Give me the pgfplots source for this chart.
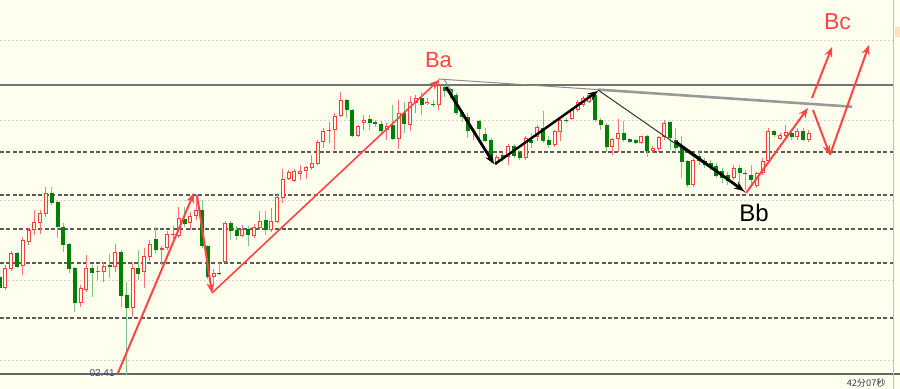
\documentclass[border=0pt]{standalone}
\usepackage{pgfplots}
\pgfplotsset{compat=1.18}
\usepackage{pgfplotstable}
\usepackage{fontspec}
\setmainfont{Liberation Sans}
\newfontfamily\cjk{Noto Sans CJK SC}
\usetikzlibrary{arrows.meta}
\definecolor{bg}{HTML}{FFFFEE}
\definecolor{upc}{HTML}{FF3B3B}
\definecolor{upw}{HTML}{FF7070}
\definecolor{dnc}{HTML}{008000}
\definecolor{dnw}{HTML}{80C480}
\definecolor{arr}{HTML}{FF4545}
\definecolor{grd}{HTML}{D4D4D4}
\definecolor{dsh}{HTML}{5A5A5A}
% candles, screen-pixel units (y grows downwards): body top, body bottom, high, low
\pgfplotstableread{
i top bot hi lo
1 268 288 265 290
2 253 269 251 271
4 240 266 237 275
5 230 242 228 245
6 222 230 210 235
7 213 223 210 234
8 193 214 187 217
14 288 303 285 307
15 268 290 255 292
17 271.5 272.5 266 280
18 266 272 262 282
20 252 267 244 272
23 268 308 263 317
25 256 272 248 288
26 244 257 240 261
28 248.5 250 246.5 265
29 234 248 231.5 250
30 234.5 235.5 226.5 240
31 218 236 207 238
33 216 223 212 230
34 210 216 197 220
37 273 277 269 283
39 223 262 221.5 263.5
42 229 236 225 237.5
44 227 236 224 238.5
45 221 228 211 230
47 221.5 230 208 232
48 197 222 193 223.5
49 179 198.5 169 203
50 172.5 179.5 170 180.5
51 171.5 181 169 182
52 171 174 165 180
53 167 171.5 166 179.5
54 163 168 155 170
55 142 164.5 140 165
56 131 142.5 128 148.5
57 130 131 122.5 143.5
58 116 130 113 150
59 100 116 92.5 117.5
62 126.5 136 125 137
63 120 123.5 115 130
67 126 130 123 140
69 113 139.5 100 149.5
71 102.5 125 96.5 131
72 98.5 103.5 95 113
74 102 104.5 98.5 105.5
76 85 105.5 80.5 110.5
82 131.5 132.5 128.5 140
86 157 162 155 165
88 146 157 144.5 165
91 138 158.5 136.5 160.5
93 127 137 125 141
96 131.5 145 130 147
97 120.5 132.5 119 141.5
99 110 119.5 108 120.5
100 102.5 110.5 100.5 112
101 98 105 96.5 107
102 95.5 102 94 103.5
106 139.5 147 138 155
107 133.5 139.5 119.5 152
111 136.5 143.5 136 144.5
113 148.5 151 146.5 153.5
114 137.5 149 136 152
115 123.5 137.5 120.5 140
120 160.5 185.5 158 187
127 168.5 178.5 165 180
131 173.5 186.5 172 188
132 161.5 173.5 158 175
133 131.5 161.5 128 163.5
135 135 139.5 133 140.5
136 132.5 136.5 125 140
138 131.5 137.5 128 140
140 133.5 140 130 142
}\up
\pgfplotstableread{
i top bot hi lo
0 277 288 276 289
3 253 267 252 268
9 193 203 187 205
10 202 227 201 238
11 227 245 223 252
12 244 269 243 273
13 268 303 267 312
16 268 273 265 297
19 265 267.5 254 278
21 252 296 250 307
22 295 308 282 375
24 268 274 250 280
27 239 250 227 253
32 219 224 207 227
35 210.5 246.5 200 248
36 246 277 245 279
38 273.5 274.5 263 275
40 223 231 221 240
41 230 236 226.5 240
43 229 235 226 246
46 220 230 211 235
60 100 110 99 118
61 110 136 109 137.5
64 119.5 123.5 115 130
65 122.5 124.5 120 127
66 124 131.5 121.5 133.5
68 125.5 139 105 140
70 113 124 102 133.5
73 98.5 105 92 115.5
75 104.5 105.5 100.5 107
77 87.5 91.5 86 97.5
78 89.5 95.5 88 99
79 95 113.5 93.5 115
80 112.5 117 110 122
81 117 131.5 113.5 138.5
83 121 129 120 141.5
84 134 141 128.5 142
85 140 160 138.5 163
87 155 159.5 153.5 162
89 146.5 156 144.5 158
90 152.5 158.5 150 160
92 140 143.5 133 148
94 128.5 141.5 111 143.5
95 140 145 136.5 148.5
98 120.5 121.5 118 123
103 95 120 93 122
104 120 125 118 130
105 125 147 123 152
108 133.5 140 121.5 142
109 139.5 142.5 138 143.5
110 140.5 143.5 139 144.5
112 136 151 135 157.5
116 122.5 138.5 121 150
117 140 148.5 128 152
118 148.5 162 136.5 178
119 161.5 185 160 187
121 156.5 161.5 150 165
122 161 165 158 168
123 163 167 160 170
124 166.5 176.5 163 178.5
125 171.5 178 168 183
126 175 181 172 185
128 168.5 173.5 165 183
129 173.5 174.5 170 190
130 175 180 165 185
134 131.5 135 130 137
137 133.5 137.5 130 140
139 131.5 140 128 141.5
}\dn
\begin{document}
\begin{tikzpicture}
\begin{axis}[
  scale only axis, width=450pt, height=194.5pt,
  xmin=0, xmax=900, ymin=0, ymax=389, y dir=reverse,
  axis line style={draw=none}, xtick=\empty, ytick=\empty,
  axis background/.style={fill=bg},
  clip=true,
]
% grid
\addplot[grd, line width=0.4pt, dash pattern=on 1pt off 1pt] coordinates {(0,40) (893,40)};
\addplot[grd, line width=0.4pt, dash pattern=on 1pt off 1pt] coordinates {(0,120) (893,120)};
\addplot[grd, line width=0.4pt, dash pattern=on 1pt off 1pt] coordinates {(0,200) (893,200)};
\addplot[grd, line width=0.4pt, dash pattern=on 1pt off 1pt] coordinates {(0,280) (893,280)};
\addplot[grd, line width=0.4pt, dash pattern=on 1pt off 1pt] coordinates {(0,360) (893,360)};
\addplot[dsh, line width=0.55pt, dash pattern=on 2pt off 1.2pt] coordinates {(0,152) (893,152)};
\addplot[dsh, line width=0.55pt, dash pattern=on 2pt off 1.2pt] coordinates {(0,195) (893,195)};
\addplot[dsh, line width=0.55pt, dash pattern=on 2pt off 1.2pt] coordinates {(0,229) (893,229)};
\addplot[dsh, line width=0.55pt, dash pattern=on 2pt off 1.2pt] coordinates {(0,263) (893,263)};
\addplot[dsh, line width=0.55pt, dash pattern=on 2pt off 1.2pt] coordinates {(0,318) (893,318)};
\addplot[black!55, line width=0.6pt] coordinates {(0,85) (893,85)};
\addplot[black!60, line width=0.7pt] coordinates {(0,374) (900,374)};
\addplot[black!25, line width=0.5pt] coordinates {(893,0) (893,389)};
\fill[orange!25] (axis cs:895,27) rectangle (axis cs:900,37);
% wicks
\addplot[draw=none, mark=none, error bars/.cd, y dir=plus, y explicit, error mark=none,
  error bar style={draw=upw, line width=0.5pt}]
  table[x expr=5.78*\thisrow{i}-0.3, y=hi, y error expr=\thisrow{lo}-\thisrow{hi}] {\up};
\addplot[draw=none, mark=none, error bars/.cd, y dir=plus, y explicit, error mark=none,
  error bar style={draw=dnw, line width=0.5pt}]
  table[x expr=5.78*\thisrow{i}-0.3, y=hi, y error expr=\thisrow{lo}-\thisrow{hi}] {\dn};
% bodies
\addplot[draw=none, mark=none, error bars/.cd, y dir=plus, y explicit, error mark=none,
  error bar style={draw=upc, line width=2pt}]
  table[x expr=5.78*\thisrow{i}-0.3, y=top, y error expr=\thisrow{bot}-\thisrow{top}] {\up};
\addplot[draw=none, mark=none, error bars/.cd, y dir=plus, y explicit, error mark=none,
  error bar style={draw=bg, line width=1pt}]
  table[x expr=5.78*\thisrow{i}-0.3, y expr=\thisrow{top}+1, y error expr={max(\thisrow{bot}-\thisrow{top}-2,0)}] {\up};
\addplot[draw=none, mark=none, error bars/.cd, y dir=plus, y explicit, error mark=none,
  error bar style={draw=dnc, line width=2pt}]
  table[x expr=5.78*\thisrow{i}-0.3, y=top, y error expr=\thisrow{bot}-\thisrow{top}] {\dn};
% trend lines and arrows
\addplot[black!45, line width=0.5pt] coordinates {(438,79) (598,89.6)};
\addplot[black!40, line width=1.3pt] coordinates {(598,89.6) (852,106.7)};
\addplot[black!45, line width=0.5pt] coordinates {(444,79) (453,94)};
\addplot[black!80, line width=0.5pt] coordinates {(598,90) (745,192)};
\addplot[black, line width=1.4pt, -{Stealth[length=5pt,width=4pt]}] coordinates {(446,87) (494,164)};
\addplot[black, line width=1.2pt, -{Stealth[length=5pt,width=4pt]}] coordinates {(495,164) (598,91)};
\addplot[black, line width=1.4pt, -{Stealth[length=5pt,width=4pt]}] coordinates {(676,142) (744,191)};
\addplot[arr, line width=1pt, -{Stealth[length=5pt,width=4pt]}] coordinates {(118,373) (194,193)};
\addplot[arr, line width=1pt, -{Stealth[length=5pt,width=4pt]}] coordinates {(197,195) (212,293)};
\addplot[arr, line width=0.8pt, -{Stealth[length=5pt,width=4pt]}] coordinates {(212,293) (439,80)};
\addplot[arr, line width=1pt, -{Stealth[length=5pt,width=4pt]}] coordinates {(746,193) (808,108)};
\addplot[arr, line width=1pt, -{Stealth[length=5pt,width=4pt]}] coordinates {(812,98) (832,47)};
\addplot[arr, line width=1pt, -{Stealth[length=5pt,width=4pt]}] coordinates {(813,110) (830,155)};
\addplot[arr, line width=1pt, -{Stealth[length=5pt,width=4pt]}] coordinates {(830,155) (869,45)};
% labels
\node[text=arr, font=\fontsize{11}{13}\selectfont] at (axis cs:438.5,60.5) {Ba};
\node[text=black, font=\fontsize{12}{14}\selectfont] at (axis cs:754,212.5) {Bb};
\node[text=arr, font=\fontsize{11.5}{14}\selectfont] at (axis cs:837.5,21.7) {Bc};
\node[text={rgb,255:red,60;green,75;blue,110}, font=\fontsize{5}{6}\selectfont, anchor=east, inner sep=0.5pt] at (axis cs:116,373.5) {02.41};
\node[text={rgb,255:red,50;green,55;blue,85}, font=\cjk\fontsize{4.6}{5.5}\selectfont, anchor=east, inner sep=0pt] at (axis cs:886,383.3) {42分07秒};
\end{axis}
\end{tikzpicture}
\end{document}
